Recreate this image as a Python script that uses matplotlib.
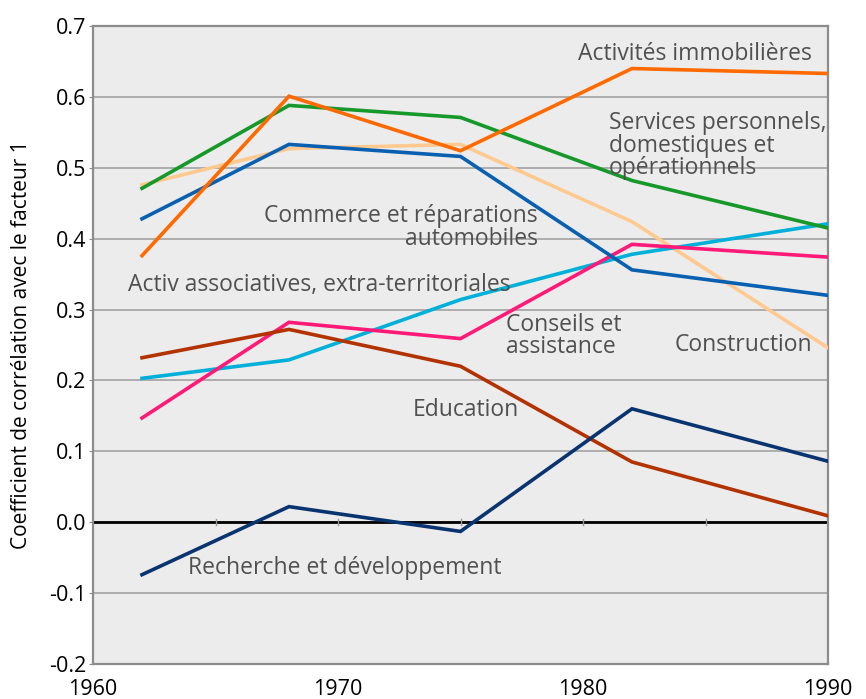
import matplotlib
matplotlib.use("Agg")
import matplotlib.pyplot as plt
from matplotlib.ticker import MultipleLocator

plt.rcParams['font.family'] = ['Open Sans', 'DejaVu Sans']

years = [1962, 1968, 1975, 1982, 1990]

immobilier = [0.376, 0.601, 0.524, 0.640, 0.633]
services_perso = [0.471, 0.588, 0.571, 0.482, 0.415]
commerce = [0.428, 0.533, 0.516, 0.356, 0.320]
construction = [0.476, 0.527, 0.533, 0.424, 0.246]
associatives = [0.203, 0.229, 0.314, 0.378, 0.421]
conseils = [0.147, 0.282, 0.259, 0.392, 0.374]
education = [0.232, 0.272, 0.220, 0.085, 0.009]
recherche = [-0.074, 0.022, -0.013, 0.160, 0.086]

series = [
    (construction, "#ffc98f"),
    (associatives, "#00b0d8"),
    (conseils, "#ff1a78"),
    (education, "#b23200"),
    (recherche, "#0a3470"),
    (commerce, "#0a60b0"),
    (services_perso, "#16982a"),
    (immobilier, "#ff6a00"),
]

labels = [
    ("Activités immobilières", 1989.35, 0.661, "right"),
    ("Services personnels,\ndomestiques et\nopérationnels", 1981.06, 0.531, "left"),
    ("Commerce et réparations\nautomobiles", 1978.16, 0.416, "right"),
    ("Activ associatives, extra-territoriales", 1961.43, 0.335, "left"),
    ("Conseils et\nassistance", 1976.86, 0.263, "left"),
    ("Construction", 1983.76, 0.2505, "left"),
    ("Education", 1973.06, 0.1577, "left"),
    ("Recherche et développement", 1963.88, -0.0646, "left"),
]

fig = plt.figure(figsize=(8.66, 6.99), dpi=100)
ax = fig.add_axes([93 / 866, 1 - 664 / 699, 735 / 866, 638 / 699])
ax.set_facecolor("#ececec")

ax.set_xlim(1960, 1990)
ax.set_ylim(-0.2, 0.7)
ax.yaxis.set_major_locator(MultipleLocator(0.1))
ax.set_xticks([1960, 1970, 1980, 1990])
ax.set_yticklabels([f"{v:.1f}" for v in ax.get_yticks()])
ax.grid(axis="y", color="#a8a8a8", linewidth=1.3)
ax.set_axisbelow(True)

for spine in ax.spines.values():
    spine.set_color("#8c8c8c")
    spine.set_linewidth(1.6)

ax.tick_params(axis="x", length=0, pad=11, labelsize=15.5)
ax.tick_params(axis="y", length=3, color="#8c8c8c", pad=2, labelsize=15.5)

# zero line with small 5-year marks
ax.axhline(0, color="black", linewidth=2, zorder=2)
for yr in range(1965, 1990, 5):
    ax.plot([yr, yr], [-0.004, 0.004], color="#999999", linewidth=1, zorder=2)

for values, color in series:
    ax.plot(years, values, color=color, linewidth=2.6, solid_joinstyle="miter", zorder=3)

for text, x, y, ha in labels:
    ax.text(x, y, text, ha=ha, va="center", fontsize=16.5, color="#505050",
            linespacing=0.92, zorder=4, multialignment=ha)

ax.set_ylabel("Coefficient de corrélation avec le facteur 1", fontsize=15, labelpad=12)

fig.savefig("out.png", dpi=100)
